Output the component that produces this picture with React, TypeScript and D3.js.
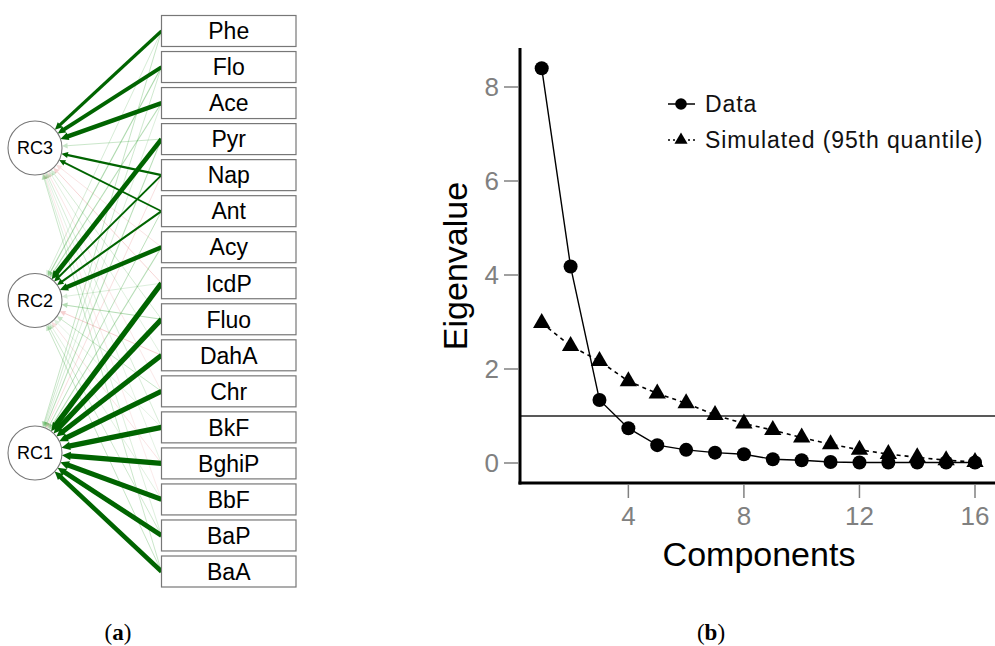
import React, { useRef, useEffect } from 'react';
import * as d3 from 'd3';

// ─── data ──────────────────────────────────────────────────────────────────
const variables = ['Phe', 'Flo', 'Ace', 'Pyr', 'Nap', 'Ant', 'Acy', 'IcdP', 'Fluo', 'DahA', 'Chr', 'BkF', 'BghiP', 'BbF', 'BaP', 'BaA'];
const factors = ['RC3', 'RC2', 'RC1'];

// rotated component loadings, same order as `variables`
const loadingsRC1 = [0.22, 0.18, 0.12, 0.28, -0.15, 0.25, 0.3, 0.95, 0.93, 0.9, 0.92, 0.94, 0.95, 0.93, 0.9, 0.86];
const loadingsRC2 = [0.15, 0.34, 0.3, 0.88, 0.57, 0.59, 0.85, 0.12, 0.3, -0.22, 0.2, 0.08, -0.12, 0.1, 0.18, 0.22];
const loadingsRC3 = [0.72, 0.78, 0.86, 0.2, 0.6, 0.55, -0.12, -0.2, 0.15, 0.1, -0.1, 0.14, 0.08, -0.08, 0.12, 0.2];

const components = [1, 2, 3, 4, 5, 6, 7, 8, 9, 10, 11, 12, 13, 14, 15, 16];
const eigenData = [8.4, 4.18, 1.34, 0.74, 0.38, 0.28, 0.22, 0.185, 0.08, 0.06, 0.02, 0.01, 0.01, 0.01, 0.01, 0.01];
const eigenSimulated = [2.98, 2.49, 2.17, 1.74, 1.48, 1.27, 1.02, 0.84, 0.7, 0.54, 0.4, 0.28, 0.19, 0.12, 0.06, 0.02];
const xTicks = [4, 8, 12, 16];
const yTicks = [0, 2, 4, 6, 8];

const W = 995;
const H = 646;
const SANS = 'Arial, "Liberation Sans", sans-serif';

const App: React.FC = () => {
    const ref = useRef<SVGSVGElement | null>(null);

    useEffect(() => {
        if (!ref.current) return;
        const svg = d3.select(ref.current);
        svg.selectAll('*').remove();

        // ─── (a) loadings diagram ─────────────────────────────────────────────
        const left = svg.append('g');
        const boxX = 161.5;
        const boxW = 134.5;
        const yBox = d3.scaleBand<string>().domain(variables).range([15.5, 587]).paddingInner(0.14).paddingOuter(0);
        const yFac = d3.scalePoint<string>().domain(factors).range([148, 453]);
        const facX = 35;
        const R = 27;
        const cut = 0.45;

        const loadByFactor: Record<string, number[]> = { RC1: loadingsRC1, RC2: loadingsRC2, RC3: loadingsRC3 };
        type Edge = { v: string; f: string; w: number };
        const edges: Edge[] = [];
        factors.forEach(f => variables.forEach((v, i) => edges.push({ v, f, w: loadByFactor[f][i] })));
        edges.sort((a, b) => Math.abs(a.w) - Math.abs(b.w));

        edges.forEach(e => {
            const a = Math.abs(e.w);
            const strong = a >= cut;
            const width = strong ? 0.8 + ((a - cut) / (1 - cut)) * 5 : 0.7 + a * 1.2;
            const colour = strong ? '#006400' : e.w >= 0 ? '#2a9d2a' : '#e05a5a';
            const opacity = strong ? 1 : 0.08 + 0.4 * (a / cut);
            const sx = boxX;
            const sy = (yBox(e.v) as number) + yBox.bandwidth() / 2;
            const cy = yFac(e.f) as number;
            const dx = sx - facX;
            const dy = sy - cy;
            const len = Math.hypot(dx, dy);
            const ux = dx / len;
            const uy = dy / len;
            const tipX = facX + ux * R;
            const tipY = cy + uy * R;
            const aLen = 5 + width * 0.7;
            const aHalf = 2.4 + width * 0.35;
            const bX = tipX + ux * aLen;
            const bY = tipY + uy * aLen;
            const g = left.append('g').attr('opacity', opacity);
            g.append('line')
                .attr('x1', sx).attr('y1', sy)
                .attr('x2', bX - ux).attr('y2', bY - uy)
                .attr('stroke', colour)
                .attr('stroke-width', width);
            g.append('polygon')
                .attr('points', [
                    [tipX, tipY],
                    [bX - uy * aHalf, bY + ux * aHalf],
                    [bX + uy * aHalf, bY - ux * aHalf],
                ].map(p => p.join(',')).join(' '))
                .attr('fill', colour);
        });

        // boxes
        const boxes = left.selectAll('g.box').data(variables).enter().append('g').attr('class', 'box');
        boxes.append('rect')
            .attr('x', boxX)
            .attr('y', d => yBox(d) as number)
            .attr('width', boxW)
            .attr('height', yBox.bandwidth())
            .attr('fill', '#fff')
            .attr('stroke', '#777')
            .attr('stroke-width', 1.2);
        boxes.append('text')
            .attr('x', boxX + boxW / 2)
            .attr('y', d => (yBox(d) as number) + yBox.bandwidth() / 2)
            .attr('dy', '0.36em')
            .attr('text-anchor', 'middle')
            .style('font-family', SANS)
            .style('font-size', '23px')
            .style('fill', '#000')
            .text(d => d);

        // factor circles
        const facs = left.selectAll('g.fac').data(factors).enter().append('g').attr('class', 'fac');
        facs.append('circle')
            .attr('cx', facX)
            .attr('cy', d => yFac(d) as number)
            .attr('r', R)
            .attr('fill', '#fff')
            .attr('stroke', '#777')
            .attr('stroke-width', 1.1);
        facs.append('text')
            .attr('x', facX)
            .attr('y', d => yFac(d) as number)
            .attr('dy', '0.36em')
            .attr('text-anchor', 'middle')
            .style('font-family', SANS)
            .style('font-size', '18px')
            .text(d => d);

        // ─── (b) scree plot ───────────────────────────────────────────────────
        const right = svg.append('g');
        const x = d3.scaleLinear().domain([1, 16]).range([541.7, 975]);
        const y = d3.scaleLinear().domain([0, 8]).range([463, 87]);
        const axisX = 520;
        const axisY = 483;

        // reference line at eigenvalue 1
        right.append('line')
            .attr('x1', axisX).attr('x2', W)
            .attr('y1', y(1)).attr('y2', y(1))
            .attr('stroke', '#222')
            .attr('stroke-width', 1.5);

        // axes
        right.append('line')
            .attr('x1', axisX).attr('x2', axisX)
            .attr('y1', 48).attr('y2', axisY + 1.5)
            .attr('stroke', '#000').attr('stroke-width', 3);
        right.append('line')
            .attr('x1', axisX - 1.5).attr('x2', W)
            .attr('y1', axisY).attr('y2', axisY)
            .attr('stroke', '#000').attr('stroke-width', 3);

        yTicks.forEach(t => {
            right.append('line')
                .attr('x1', axisX - 16).attr('x2', axisX - 2)
                .attr('y1', y(t)).attr('y2', y(t))
                .attr('stroke', '#808080').attr('stroke-width', 1.5);
            right.append('text')
                .attr('x', axisX - 21)
                .attr('y', y(t))
                .attr('dy', '0.36em')
                .attr('text-anchor', 'end')
                .style('font-family', SANS)
                .style('font-size', '26px')
                .style('fill', '#808080')
                .text(t);
        });
        xTicks.forEach(t => {
            right.append('line')
                .attr('x1', x(t)).attr('x2', x(t))
                .attr('y1', axisY + 2).attr('y2', axisY + 15)
                .attr('stroke', '#808080').attr('stroke-width', 1.5);
            right.append('text')
                .attr('x', x(t))
                .attr('y', 525)
                .attr('text-anchor', 'middle')
                .style('font-family', SANS)
                .style('font-size', '26px')
                .style('fill', '#808080')
                .text(t);
        });

        right.append('text')
            .attr('x', 759)
            .attr('y', 566)
            .attr('text-anchor', 'middle')
            .style('font-family', SANS)
            .style('font-size', '34px')
            .text('Components');
        right.append('text')
            .attr('transform', `translate(467,266) rotate(-90)`)
            .attr('text-anchor', 'middle')
            .style('font-family', SANS)
            .style('font-size', '34px')
            .text('Eigenvalue');

        const line = d3.line<number>().x((_, i) => x(components[i])).y(d => y(d));

        right.append('path')
            .attr('d', line(eigenSimulated) as string)
            .attr('fill', 'none')
            .attr('stroke', '#000')
            .attr('stroke-width', 1.6)
            .attr('stroke-dasharray', '4,4');
        right.append('path')
            .attr('d', line(eigenData) as string)
            .attr('fill', 'none')
            .attr('stroke', '#000')
            .attr('stroke-width', 1.4);

        const tri = d3.symbol().type(d3.symbolTriangle);
        right.selectAll('path.sim')
            .data(eigenSimulated)
            .enter()
            .append('path')
            .attr('class', 'sim')
            .attr('d', tri.size(130)() as string)
            .attr('transform', (d, i) => `translate(${x(components[i])},${y(d)})`)
            .attr('fill', '#000');
        right.selectAll('circle.dat')
            .data(eigenData)
            .enter()
            .append('circle')
            .attr('class', 'dat')
            .attr('cx', (_, i) => x(components[i]))
            .attr('cy', d => y(d))
            .attr('r', 7)
            .attr('fill', '#000');

        // legend
        const leg = right.append('g');
        const legRows = [
            { label: 'Data', dashed: false, y: 104 },
            { label: 'Simulated (95th quantile)', dashed: true, y: 140 },
        ];
        legRows.forEach(r => {
            leg.append('line')
                .attr('x1', 668).attr('x2', 695)
                .attr('y1', r.y).attr('y2', r.y)
                .attr('stroke', '#000')
                .attr('stroke-width', 1.5)
                .attr('stroke-dasharray', r.dashed ? '2,3' : null);
            if (r.dashed) {
                leg.append('path')
                    .attr('d', tri.size(75)() as string)
                    .attr('transform', `translate(681,${r.y})`)
                    .attr('fill', '#000');
            } else {
                leg.append('circle').attr('cx', 681).attr('cy', r.y).attr('r', 5.8).attr('fill', '#000');
            }
            leg.append('text')
                .attr('x', 705)
                .attr('y', r.y)
                .attr('dy', '0.36em')
                .style('font-family', SANS)
                .style('font-size', '23px')
                .style('letter-spacing', '0.9px')
                .style('fill', '#111')
                .text(r.label);
        });

        // ─── captions ─────────────────────────────────────────────────────────
        const captions = [
            { letter: 'a', x: 118 },
            { letter: 'b', x: 711 },
        ];
        captions.forEach(c => {
            const t = svg.append('text')
                .attr('x', c.x)
                .attr('y', 640)
                .attr('text-anchor', 'middle')
                .style('font-family', '"Liberation Serif", "Times New Roman", serif')
                .style('font-size', '23px');
            t.append('tspan').text('(');
            t.append('tspan').style('font-weight', 700).text(c.letter);
            t.append('tspan').text(')');
        });
    }, []);

    return (
        <svg
            ref={ref}
            width={W}
            height={H}
            style={{ position: 'absolute', left: 0, top: 0, background: '#fff' }}
        />
    );
};

export default App;
